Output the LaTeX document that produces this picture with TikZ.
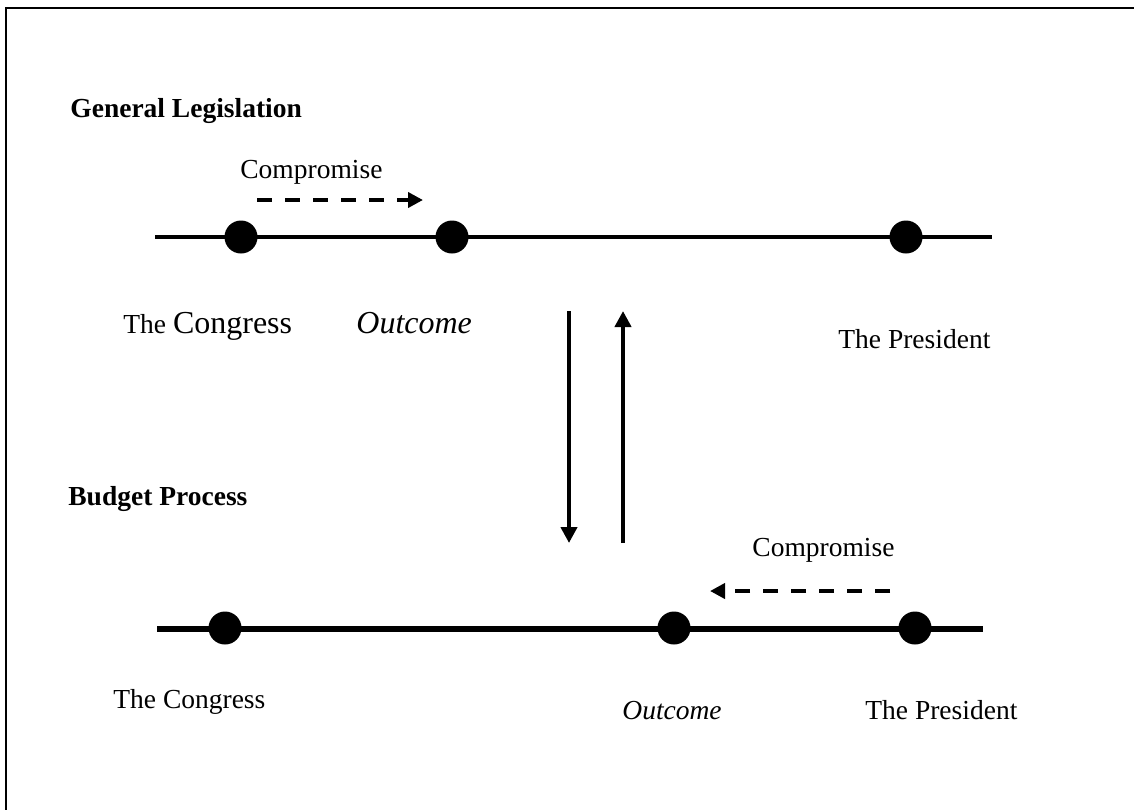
\documentclass[tikz,border=0pt]{standalone}
\usepackage{fontspec}
\setmainfont{Liberation Serif}
\usetikzlibrary{arrows.meta}
\tikzset{
	dot/.style={circle, fill=black, inner sep=0pt, minimum size=16.5pt},
	lbl/.style={anchor=base west, inner sep=0pt, font=\fontsize{13.75}{16}\selectfont},
	biglbl/.style={anchor=base west, inner sep=0pt, font=\fontsize{16}{18}\selectfont},
	head/.style={anchor=base west, inner sep=0pt, font=\fontsize{13.75}{16}\selectfont\bfseries},
	shiftarrow/.style={line width=2pt, dash pattern=on 7.5pt off 6.5pt, -{Triangle[length=7.5pt,width=7.5pt]}},
	switcharrow/.style={line width=2pt, -{Triangle[length=8pt,width=8pt]}}
}

\begin{document}
\begin{tikzpicture}[x=0.5pt, y=-0.5pt]
			%%%%% START %%%%%
			\useasboundingbox (0, 0) rectangle (1134, 810);
			
			\draw[line width=1pt] (1134, 8) -- (6, 8) -- (6, 810);
			
			% general legislation
			\node[head] (genhead) at (70, 117) {General Legislation};
			\draw[line width=1.75pt] (155, 237) -- (992, 237);
			\node[dot] (congtop) at (241, 237) {};
			\node[dot] (outtop) at (452, 237) {};
			\node[dot] (prestop) at (906, 237) {};
			
			\node[lbl] (comptop) at (240, 178) {Compromise};
			\coordinate (ctopa) at (257, 200);
			\coordinate (ctopb) at (423, 200);
			\draw[shiftarrow] (ctopa) -- (ctopb);
			
			\node[lbl] (congtoplbl) at (123, 333) {The {\fontsize{16}{18}\selectfont Congress}};
			\node[biglbl] (outtoplbl) at (356, 333) {\itshape Outcome};
			\node[lbl] (prestoplbl) at (838, 348) {The President};
			
			% switch between the two
			\coordinate (downa) at (569, 311);
			\coordinate (downb) at (569, 543);
			\coordinate (upa) at (623, 543);
			\coordinate (upb) at (623, 311);
			\draw[switcharrow] (downa) -- (downb);
			\draw[switcharrow] (upa) -- (upb);
			
			% budget process
			\node[head] (budhead) at (68, 505) {Budget Process};
			\draw[line width=3pt] (157, 629) -- (983, 629);
			\node[dot] (congbot) at (225, 628) {};
			\node[dot] (outbot) at (674, 628) {};
			\node[dot] (presbot) at (915, 628) {};
			
			\node[lbl] (compbot) at (752, 556) {Compromise};
			\coordinate (cbota) at (890, 591);
			\coordinate (cbotb) at (710, 591);
			\draw[shiftarrow] (cbota) -- (cbotb);
			
			\node[lbl] (congbotlbl) at (113, 708) {The Congress};
			\node[lbl] (outbotlbl) at (622, 719) {\itshape Outcome};
			\node[lbl] (presbotlbl) at (865, 719) {The President};
			%%%%% END %%%%%
\end{tikzpicture}
\end{document}
